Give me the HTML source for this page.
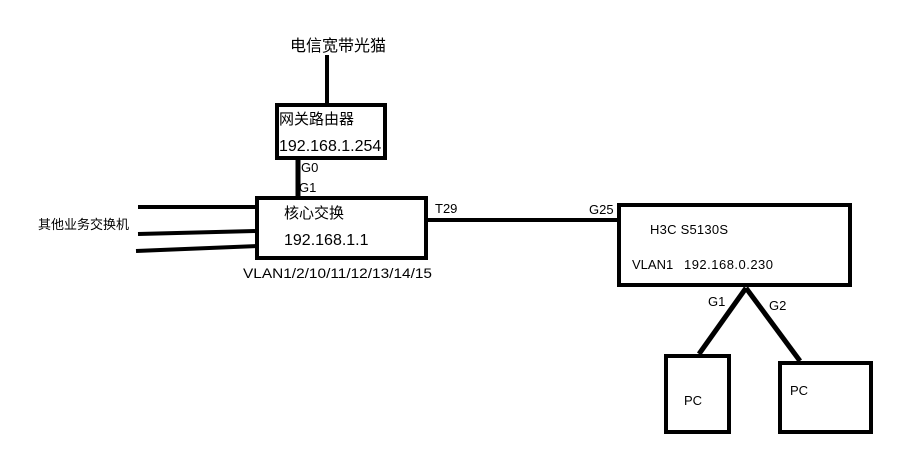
<!DOCTYPE html>
<html><head><meta charset="utf-8"><style>
html,body{margin:0;padding:0;background:#fff;width:905px;height:455px;overflow:hidden}
svg text{font-family:"Liberation Sans","Noto Sans CJK SC",sans-serif;fill:#000}
</style></head><body>
<svg width="905" height="455" viewBox="0 0 905 455" xmlns="http://www.w3.org/2000/svg">
<g stroke="#000" fill="none">
<line x1="327" y1="55" x2="327" y2="104" stroke-width="4"/>
<rect x="277" y="105" width="108" height="53" stroke-width="4"/>
<line x1="298" y1="160" x2="298" y2="197" stroke-width="5"/>
<rect x="257" y="198" width="169" height="60" stroke-width="4"/>
<line x1="138" y1="207" x2="257" y2="207" stroke-width="4"/>
<line x1="138" y1="234" x2="257" y2="231" stroke-width="4"/>
<line x1="136" y1="251" x2="257" y2="246" stroke-width="4"/>
<line x1="426" y1="220" x2="619" y2="220" stroke-width="4"/>
<rect x="619" y="205" width="231" height="80" stroke-width="4"/>
<line x1="746" y1="288" x2="699" y2="354" stroke-width="5"/>
<line x1="746" y1="288" x2="800" y2="361" stroke-width="5"/>
<rect x="666" y="356" width="63" height="76" stroke-width="4"/>
<rect x="780" y="363" width="91" height="69" stroke-width="4"/>
</g>
<text x="290" y="51" font-size="16">电信宽带光猫</text>
<text x="279" y="124" font-size="15">网关路由器</text>
<text x="279" y="151" font-size="16">192.168.1.254</text>
<text x="301" y="172" font-size="13">G0</text>
<text x="299" y="192" font-size="13">G1</text>
<text x="284" y="218" font-size="15">核心交换</text>
<text x="284" y="245" font-size="16">192.168.1.1</text>
<text x="243" y="278" font-size="14" textLength="189" lengthAdjust="spacingAndGlyphs">VLAN1/2/10/11/12/13/14/15</text>
<text x="38" y="229" font-size="13">其他业务交换机</text>
<text x="435" y="213" font-size="13">T29</text>
<text x="589" y="214" font-size="13">G25</text>
<text x="650" y="234" font-size="13" textLength="78">H3C S5130S</text>
<text x="632" y="269" font-size="13">VLAN1</text>
<text x="684" y="269" font-size="13" textLength="89">192.168.0.230</text>
<text x="708" y="306" font-size="13">G1</text>
<text x="769" y="310" font-size="13">G2</text>
<text x="684" y="405" font-size="13">PC</text>
<text x="790" y="395" font-size="13">PC</text>
</svg>
</body></html>
